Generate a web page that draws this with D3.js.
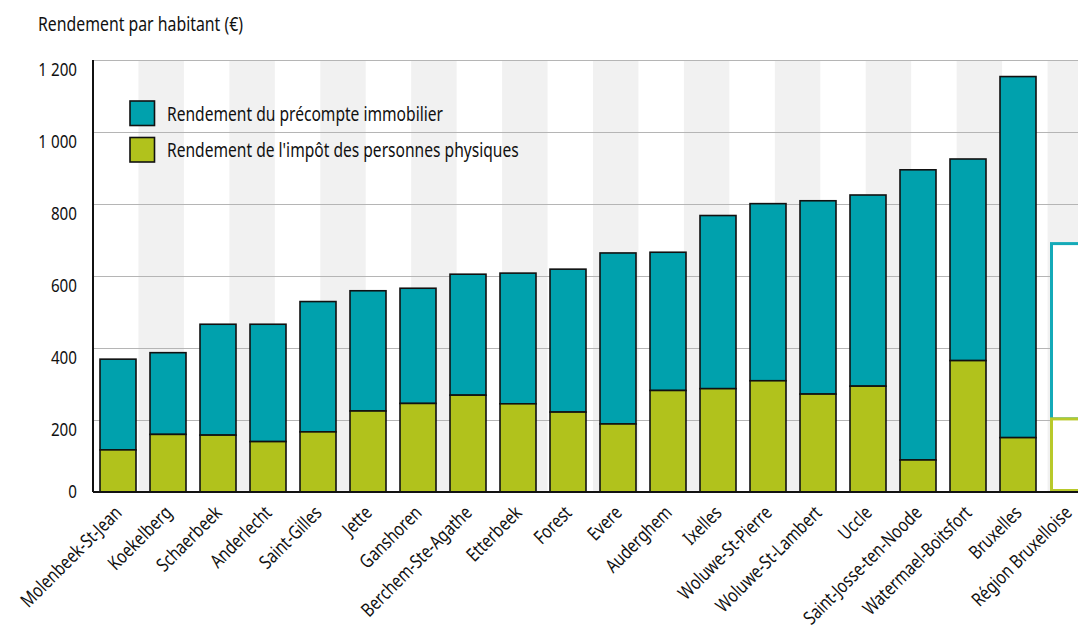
<!DOCTYPE html>
<html lang="fr">
<head>
<meta charset="utf-8">
<script src="https://cdn.jsdelivr.net/npm/d3@7"></script>
<style>
  html, body { margin: 0; padding: 0; background: #fff; }
  svg { display: block; }
  text { font-family: "Noto Sans", "Open Sans", sans-serif; fill: #111; }
</style>
</head>
<body>
<svg id="chart" width="1078" height="632"></svg>
<script>
// Communes of the Brussels Region, sorted by total yield per inhabitant
const communes = [
  "Molenbeek-St-Jean", "Koekelberg", "Schaerbeek", "Anderlecht", "Saint-Gilles",
  "Jette", "Ganshoren", "Berchem-Ste-Agathe", "Etterbeek", "Forest",
  "Evere", "Auderghem", "Ixelles", "Woluwe-St-Pierre", "Woluwe-St-Lambert",
  "Uccle", "Saint-Josse-ten-Noode", "Watermael-Boitsfort", "Bruxelles", "Région Bruxelloise"
];

// Yield of the personal income tax (€ per inhabitant)
const impotPersonnes = [
  117, 160, 158, 140, 167, 225, 246, 269, 245, 222,
  189, 282, 287, 309, 272, 294, 89, 365, 151, 203
];

// Yield of the property tax (€ per inhabitant)
const precompteImmobilier = [
  252, 227, 308, 326, 362, 334, 320, 336, 363, 397,
  475, 384, 481, 492, 537, 531, 806, 560, 1003, 487
];

const yTicks = [0, 200, 400, 600, 800, 1000, 1200];

const seriesNames = [
  "Rendement du précompte immobilier",
  "Rendement de l'impôt des personnes physiques"
];
const regionLabel = "Région Bruxelloise";

const colTeal = "#00a1ad";
const colGreen = "#b1c21c";
const colTealLine = "#14aab8";
const colGreenLine = "#b8c92a";

// horizontal squeeze giving the type a condensed look
const narrow = 0.8;

const svg = d3.select("#chart");
const margin = { left: 93, right: 1093, top: 60, bottom: 492 };

const x = d3.scaleBand().domain(communes).range([margin.left, margin.right])
  .paddingInner(0.28).paddingOuter(0.14);
const y = d3.scaleLinear().domain([0, 1200]).range([margin.bottom, margin.top]);

// Background: alternating light bands
const stripeCount = 22;
const stripes = d3.scaleBand().domain(d3.range(stripeCount)).range([margin.left, margin.right]);
svg.append("g").selectAll("rect")
  .data(d3.range(stripeCount).filter(i => i % 2 === 1))
  .join("rect")
  .attr("x", i => stripes(i))
  .attr("y", margin.top)
  .attr("width", stripes.bandwidth())
  .attr("height", margin.bottom - margin.top)
  .attr("fill", "#f1f1f1");

// Horizontal grid
svg.append("g").selectAll("line")
  .data(yTicks.filter(t => t > 0))
  .join("line")
  .attr("x1", margin.left).attr("x2", 1078)
  .attr("y1", d => y(d) + 0.5).attr("y2", d => y(d) + 0.5)
  .attr("stroke", "#b5b5b5").attr("stroke-width", 1);

// Stacked data
const rows = communes.map((c, i) => ({
  name: c,
  ipp: impotPersonnes[i],
  pri: precompteImmobilier[i]
}));

const bars = svg.append("g");
rows.forEach(d => {
  const isRegion = d.name === regionLabel;
  const x0 = x(d.name), w = x.bandwidth();
  if (isRegion) {
    bars.append("rect")
      .attr("x", x0 + 1.5).attr("y", y(d.ipp + d.pri))
      .attr("width", w - 3).attr("height", y(d.ipp) - y(d.ipp + d.pri))
      .attr("fill", "#fff").attr("stroke", colTealLine).attr("stroke-width", 3);
    bars.append("rect")
      .attr("x", x0 + 1.5).attr("y", y(d.ipp))
      .attr("width", w - 3).attr("height", y(0) - y(d.ipp) - 1.5)
      .attr("fill", "#fff").attr("stroke", colGreenLine).attr("stroke-width", 3);
  } else {
    bars.append("rect")
      .attr("x", x0).attr("y", y(d.ipp + d.pri))
      .attr("width", w).attr("height", y(d.ipp) - y(d.ipp + d.pri))
      .attr("fill", colTeal).attr("stroke", "#111").attr("stroke-width", 1.6);
    bars.append("rect")
      .attr("x", x0).attr("y", y(d.ipp))
      .attr("width", w).attr("height", y(0) - y(d.ipp))
      .attr("fill", colGreen).attr("stroke", "#111").attr("stroke-width", 1.6);
  }
});

// Axes lines
svg.append("line")
  .attr("x1", margin.left).attr("x2", margin.left)
  .attr("y1", margin.top).attr("y2", margin.bottom)
  .attr("stroke", "#111").attr("stroke-width", 2);
svg.append("line")
  .attr("x1", margin.left).attr("x2", 1078)
  .attr("y1", margin.bottom).attr("y2", margin.bottom)
  .attr("stroke", "#111").attr("stroke-width", 2);

// Y axis labels, hanging just below their grid line
const fmt = d3.formatLocale({ decimal: ",", thousands: " ", grouping: [3], currency: ["", " €"] }).format(",d");
const yAxis = d3.axisLeft(y).tickValues(yTicks).tickSize(0).tickPadding(0).tickFormat(fmt);
const gy = svg.append("g").attr("transform", "translate(77,0)").call(yAxis);
gy.select(".domain").remove();
gy.selectAll(".tick text")
  .attr("font-size", 19)
  .attr("font-family", "'Noto Sans', 'Open Sans', sans-serif")
  .attr("fill", "#111")
  .attr("x", 0)
  .attr("dy", d => d === 0 ? 5 : 15)
  .attr("transform", `scale(${narrow},1)`);

// X axis labels (rotated)
const xAxis = d3.axisBottom(x).tickSize(0).tickPadding(0);
const gx = svg.append("g").attr("transform", `translate(0,${margin.bottom})`).call(xAxis);
gx.select(".domain").remove();
gx.selectAll(".tick text")
  .attr("font-size", 19)
  .attr("font-family", "'Noto Sans', 'Open Sans', sans-serif")
  .attr("fill", "#111")
  .attr("text-anchor", "end")
  .attr("dy", null).attr("y", 0)
  .attr("transform", `translate(5,22) rotate(-45) scale(${narrow},1)`);

// Title
svg.append("text")
  .attr("transform", `translate(38,31) scale(${narrow},1)`)
  .attr("font-size", 19.8).text("Rendement par habitant (€)");

// Legend
const legend = svg.append("g").attr("transform", "translate(130,101)");
[colTeal, colGreen].forEach((c, i) => {
  const g = legend.append("g").attr("transform", `translate(0,${i * 36.5})`);
  g.append("rect").attr("width", 24.5).attr("height", 24.5)
    .attr("fill", c).attr("stroke", "#111").attr("stroke-width", 1.6);
  g.append("text")
    .attr("transform", `translate(37,19.5) scale(${narrow},1)`)
    .attr("font-size", 19.5).text(seriesNames[i]);
});
</script>
</body>
</html>
